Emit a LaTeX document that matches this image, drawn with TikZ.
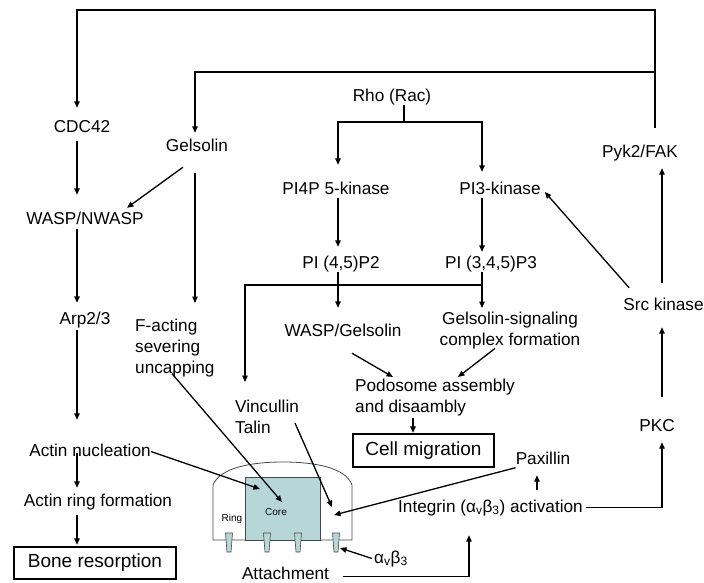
\documentclass[tikz,border=0pt]{standalone}
\usepackage{fontspec}
\setmainfont{Liberation Sans}
\usetikzlibrary{arrows.meta,calc}
\definecolor{coref}{RGB}{183,214,216}
\definecolor{cellg}{RGB}{70,70,70}
\begin{document}
\begin{tikzpicture}[x=1pt,y=-1pt,
  lab/.style={font=\fontsize{17.2}{21}\selectfont, inner sep=0pt, text height=12.5pt, text depth=3.5pt, anchor=base},
  mlab/.style={font=\fontsize{17.2}{21}\selectfont, inner sep=0pt},
  arr/.style={-{Triangle[length=6.5pt,width=5.5pt]}, line width=1.3pt},
  ln/.style={line width=1.3pt},
  bigbox/.style={draw, line width=2.4pt, font=\fontsize{19}{23}\selectfont, inner sep=0pt},
  small/.style={font=\fontsize{10}{12}\selectfont, inner sep=0pt},
  cellline/.style={draw=cellg, line width=0.8pt}
]
\useasboundingbox (0,0) rectangle (704,582);

% ---- nodes ----
\node[lab] (cdc) at (82,132) {CDC42};
\node[lab] (gel) at (197,151) {Gelsolin};
\node[lab] (rho) at (392,101) {Rho (Rac)};
\node[lab] (pyk) at (640,157) {Pyk2/FAK};
\node[lab] (pi4p) at (336,194) {PI4P 5-kinase};
\node[lab] (pi3) at (500,194) {PI3-kinase};
\node[lab] (wasp) at (85,224) {WASP/NWASP};
\node[lab] (pi45) at (341,268) {PI (4,5)P2};
\node[lab] (pi345) at (491,268) {PI (3,4,5)P3};
\node[lab] (arp) at (85,324) {Arp2/3};
\node[mlab, align=left, anchor=north west] (fact) at (135,319) {F-acting\\severing\\uncapping};
\node[lab] (waspg) at (343,336) {WASP/Gelsolin};
\node[mlab, align=center, anchor=north] (gss) at (510,312) {Gelsolin-signaling\\complex formation};
\node[mlab, align=left, anchor=north west] (podo) at (355,379) {Podosome assembly\\and disaambly};
\node[mlab, align=left, anchor=north west] (vin) at (235,400) {Vincullin\\Talin};
\node[bigbox, minimum width=141pt, minimum height=33pt] (cellm) at (423.5,450.5) {Cell migration};
\node[lab] (pax) at (543,464) {Paxillin};
\node[lab] (integ) at (490.5,512) {Integrin (α\textsubscript{v}β\textsubscript{3}) activation};
\node[lab] (pkc) at (657,431) {PKC};
\node[lab] (src) at (663.5,310) {Src kinase};
\node[lab] (actn) at (90,456) {Actin nucleation};
\node[lab] (actr) at (98,506) {Actin ring formation};
\node[bigbox, minimum width=162pt, minimum height=32pt] (bone) at (95,563) {Bone resorption};
\node[lab, text depth=0pt] (attach) at (285.5,579.5) {Attachment};
\node[lab] (ab) at (391,563) {α\textsubscript{v}β\textsubscript{3}};

% ---- cell drawing ----
\draw[cellline] (213,540) -- (213,485) .. controls (220,468) and (250,462) .. (283,462) .. controls (316,462) and (346,468) .. (352,485) -- (352,540) -- cycle;
\node[cellline, fill=coref, minimum width=75pt, minimum height=63pt, inner sep=0pt, anchor=north west] (corebox) at (245,477) {};
\foreach \px in {229,267,298,336}
  \draw[draw=cellg, fill=coref, line width=0.6pt] ({\px-3.5},533) -- ({\px+3.5},533) -- ({\px+2},552) -- ({\px-2},552) -- cycle;
\node[small] (corel) at (276,512) {Core};
\node[small] (ringl) at (232,519) {Ring};
\coordinate (cellr) at (352,540);

% ---- helper coordinates ----
\coordinate (t1) at (655,10);
\coordinate (t2) at (655,72);
\coordinate (lx) at (77,0);
\coordinate (gx) at (195,0);
\coordinate (rj) at (404,122);
\coordinate (k1) at (338,0);
\coordinate (k2) at (482,0);
\coordinate (bj) at (482,285);
\coordinate (vx) at (245,0);
\coordinate (ix) at (469,0);
\coordinate (jx) at (537,0);
\coordinate (px) at (662,0);

% ---- top loops ----
\draw[arr, shorten <=16.5pt, shorten >=11.5pt] (pyk.north -| t1) -- (t1) -| (cdc.north -| lx);
\draw[arr, shorten >=5.5pt] (t2) -| (gel.north -| gx);

% ---- Rho branch ----
\draw[ln] (rho.south -| rj) -- (rj);
\draw[arr, shorten >=16.5pt] (rj) -| (pi4p.north -| k1);
\draw[arr, shorten >=9.5pt] (rj) -| (pi3.north -| k2);
\draw[arr, shorten <=0.5pt, shorten >=8.5pt] (pi4p.south -| k1) -- (pi45.north -| k1);
\draw[arr, shorten <=0.5pt, shorten >=3.5pt] (pi3.south -| k2) -- (pi345.north -| k2);
\draw[arr, shorten <=0.5pt, shorten >=15.5pt] (pi45.south -| k1) -- (waspg.north -| k1);
\draw[arr, shorten <=0.5pt, shorten >=4pt] (pi345.south -| k2) -- (gss.north -| k2);
\draw[arr, shorten >=18pt] (bj) -| (vin.north west -| vx);
\draw[arr] ($(waspg.south)+(9,13.5)$) -- ($(podo.north west)+(38,-2)$);
\draw[arr] ($(gss.south)+(-15,-1)$) -- ($(podo.north west)+(103,-2)$);
\draw[arr] ($(podo.south west)+(58,1.5)$) -- ($(cellm.north)+(-10.5,0)$);

% ---- left column ----
\draw[arr, shorten <=5.5pt, shorten >=16.5pt] (cdc.south -| lx) -- (wasp.north -| lx);
\draw[arr, shorten <=1.5pt, shorten >=8.5pt] (wasp.south -| lx) -- (arp.north -| lx);
\draw[arr, shorten <=2.5pt, shorten >=23.5pt] (arp.south -| lx) -- (actn.north -| lx);
\draw[arr, shorten <=-6.5pt, shorten >=5.5pt] (actn.south -| lx) -- (actr.north -| lx);
\draw[arr, shorten <=5.5pt, shorten >=1pt] (actr.south -| lx) -- (bone.north -| lx);
\draw[arr] ($(gel.south)+(-14,12.5)$) -- ($(wasp.north)+(42,-3.5)$);
\draw[arr, shorten <=18.5pt, shorten >=16pt] (gel.south -| gx) -- (fact.north west -| gx);

% ---- into the cell ----
\draw[arr] (actn.east) -- ($(corebox.north west)+(15,12)$);
\draw[arr] ($(fact.south west)+(37,-3.8)$) -- ($(corebox.north west)+(37,25)$);
\draw[arr] ($(vin.south west)+(60,-11)$) -- ($(cellr)+(-20,-33)$);
\draw[arr] (pax.south west) -- ($(cellr)+(-18,-25)$);
\draw[arr] ($(ab.west)+(-2,0)$) -- ($(cellr)+(-12,8)$);

% ---- right side ----
\draw[arr, shorten >=19.5pt] ($(attach.east)+(14,3)$) -| (integ.south -| ix);
\draw[arr, shorten <=9.5pt, shorten >=7.5pt] (integ.north -| jx) -- (pax.south -| jx);
\draw[arr, shorten <=3pt, shorten >=7.5pt] (integ.east) -| (pkc.south -| px);
\draw[arr, shorten <=21.5pt, shorten >=13.5pt] (pkc.north -| px) -- (src.south -| px);
\draw[arr, shorten <=14.5pt, shorten >=7.5pt] (src.north -| px) -- (pyk.south -| px);
\draw[arr] ($(src.north west)+(6,-9.5)$) -- ($(pi3.east)+(4,2.5)$);
\end{tikzpicture}
\end{document}
